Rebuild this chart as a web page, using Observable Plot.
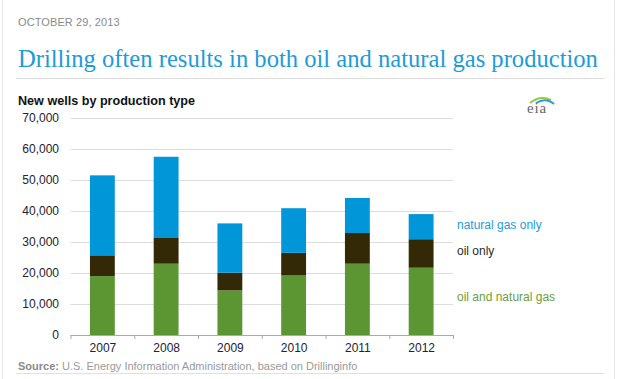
<!DOCTYPE html>
<html>
<head>
<meta charset="utf-8">
<script src="https://cdn.jsdelivr.net/npm/d3@7"></script>
<script src="https://cdn.jsdelivr.net/npm/@observablehq/plot@0.6"></script>
<style>
  html, body { margin: 0; padding: 0; background: #fff; }
  #page { position: relative; width: 620px; height: 379px; overflow: hidden; font-family: "Liberation Sans", Arial, sans-serif; }
  #frame { position: absolute; left: 2px; top: 0; width: 611px; height: 379px; border-left: 1px solid #e8e8e8; border-right: 1px solid #e4e4e4; }
  #date { position: absolute; left: 18px; top: 16px; font-size: 11px; color: #8a8a8a; letter-spacing: 0.1px; }
  #title { position: absolute; left: 18px; top: 45px; font-family: "Liberation Serif", "Times New Roman", serif; font-size: 24.6px; color: #1e9bd7; white-space: nowrap; }
  #rule1 { position: absolute; left: 16px; top: 78px; width: 588px; border-top: 1px solid #dcdcdc; }
  #subtitle { position: absolute; left: 18px; top: 94px; font-size: 12.6px; font-weight: bold; color: #111; }
  #logo { position: absolute; left: 524px; top: 94px; width: 34px; height: 24px; }
  #logo span { position: absolute; left: 3px; top: 6px; font-family: "Liberation Serif", serif; font-size: 15px; color: #666; letter-spacing: 0.8px; }
  #chart { position: absolute; left: 0; top: 108px; }
  .leg { position: absolute; left: 457px; font-size: 12px; white-space: nowrap; }
  #source { position: absolute; left: 18px; top: 360px; font-size: 11px; color: #9a9a9a; }
  #source b { color: #8a8a8a; }
  #rule2 { position: absolute; left: 16px; top: 373px; width: 588px; border-top: 1px solid #e0e0e0; }
</style>
</head>
<body>
<div id="page">
  <div id="frame"></div>
  <div id="date">OCTOBER 29, 2013</div>
  <div id="title">Drilling often results in both oil and natural gas production</div>
  <div id="rule1"></div>
  <div id="subtitle">New wells by production type</div>
  <div id="logo">
    <svg width="34" height="24" style="position:absolute;left:0;top:0">
      <path d="M6,9 Q16,1 27,6" fill="none" stroke="#9bc83c" stroke-width="2"/>
      <path d="M12,9 Q22,3 30,10" fill="none" stroke="#2a9fd8" stroke-width="2"/>
    </svg>
    <span>eia</span>
  </div>
  <div id="chart"></div>
  <div class="leg" style="top:218px;color:#1e9bd7">natural gas only</div>
  <div class="leg" style="top:244px;color:#2b2b2b">oil only</div>
  <div class="leg" style="top:290px;color:#6a9e3c">oil and natural gas</div>
  <div id="source"><b>Source:</b> U.S. Energy Information Administration, based on Drillinginfo</div>
  <div id="rule2"></div>
</div>
<script>
// Data (number of new wells)
const years = [2007, 2008, 2009, 2010, 2011, 2012];
const oilAndGas = [19000, 23000, 14400, 19200, 23000, 21700];
const oilOnly = [6700, 8500, 5700, 7300, 9900, 9200];
const gasOnly = [25800, 26000, 15900, 14400, 11300, 8100];
const types = ["oil and natural gas", "oil only", "natural gas only"];
const colors = ["#5b9632", "#332906", "#0096d8"];
const yTicks = [0, 10000, 20000, 30000, 40000, 50000, 60000, 70000];

const series = [oilAndGas, oilOnly, gasOnly];
const rows = [];
years.forEach((yr, i) => {
  let base = 0;
  series.forEach((s, k) => {
    rows.push({year: yr, type: types[k], y1: base, y2: base + s[i]});
    base += s[i];
  });
});
const boundaries = years.map(y => y - 0.5).concat([years[years.length - 1] + 0.5]);

const chart = Plot.plot({
  width: 620,
  height: 252,
  marginLeft: 70.5,
  marginRight: 167,
  marginTop: 10,
  marginBottom: 25,
  style: {fontFamily: "'Liberation Sans', Arial, sans-serif", fontSize: "12px", color: "#333", background: "transparent"},
  x: {type: "linear", domain: [years[0] - 0.5, years[years.length - 1] + 0.5]},
  y: {domain: [0, 70000]},
  color: {domain: types, range: colors},
  marks: [
    Plot.ruleY(yTicks.slice(1), {stroke: "#dddddd", strokeWidth: 1}),
    Plot.rect(rows, {x1: d => d.year - 0.195, x2: d => d.year + 0.195, y1: "y1", y2: "y2", fill: "type"}),
    Plot.ruleY([0], {stroke: "#aaaaaa"}),
    Plot.axisY({ticks: yTicks, tickSize: 0, tickPadding: 12, tickFormat: d3.format(","), fill: "#222230"}),
    Plot.axisX({ticks: boundaries, tickSize: 4, tickFormat: () => "", stroke: "#aaaaaa"}),
    Plot.axisX({ticks: years, tickSize: 0, tickPadding: 8, tickFormat: d => String(d), fill: "#222230"})
  ]
});
document.getElementById("chart").appendChild(chart);
</script>
</body>
</html>
